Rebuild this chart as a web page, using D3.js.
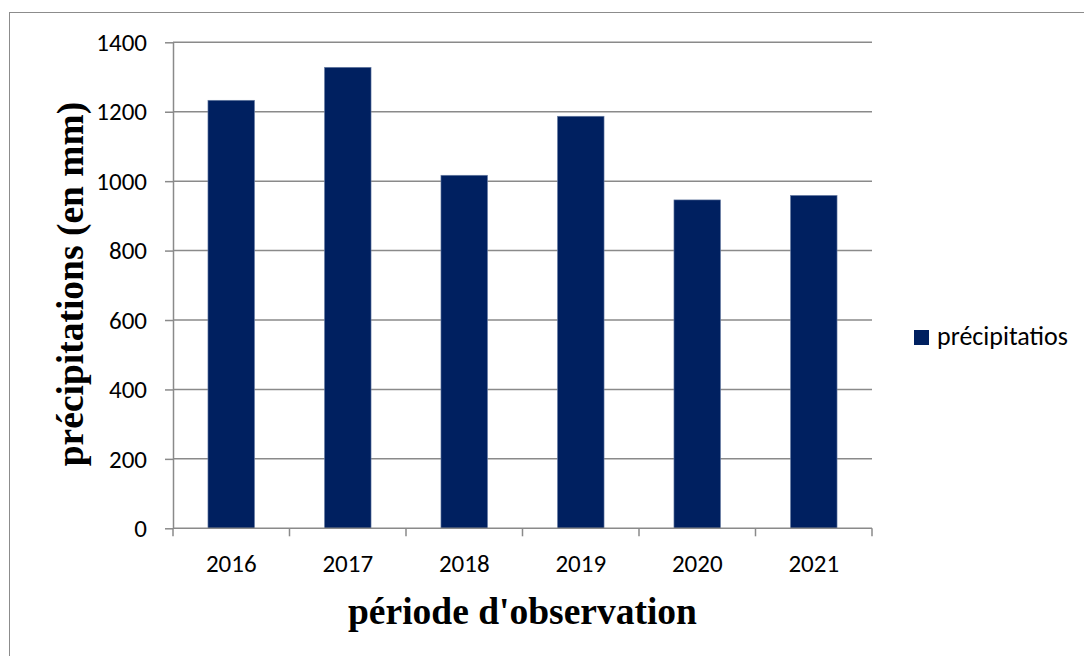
<!DOCTYPE html>
<html>
<head>
<meta charset="utf-8">
<script src="https://cdn.jsdelivr.net/npm/d3@7"></script>
<style>
  body { margin: 0; background: #fff; }
  svg { display: block; }
</style>
</head>
<body>
<svg id="chart" width="1084" height="656"></svg>
<script>
const years = ['2016', '2017', '2018', '2019', '2020', '2021'];
const rain = [1233, 1328, 1017, 1187, 946, 959];
const yTicks = [0, 200, 400, 600, 800, 1000, 1200, 1400];
const seriesName = 'précipitatios';

const width = 1084;
const height = 656;
const margin = {top: 42.3, right: 212, bottom: 127.7, left: 173};

const svg = d3.select('#chart');

// outer chart border (right/bottom run off the picture)
svg.append('rect')
  .attr('x', 9.5).attr('y', 12.5)
  .attr('width', 1200).attr('height', 800)
  .attr('fill', 'none')
  .attr('stroke', '#8c8c8c')
  .attr('stroke-width', 1);

const x = d3.scaleBand()
  .domain(years)
  .range([margin.left, width - margin.right])
  .paddingInner(0.6)
  .paddingOuter(0.3);

const y = d3.scaleLinear()
  .domain([0, 1400])
  .range([height - margin.bottom, margin.top]);

// gridlines
svg.append('g')
  .selectAll('line')
  .data(yTicks.filter(d => d > 0))
  .enter()
  .append('line')
  .attr('x1', margin.left)
  .attr('x2', width - margin.right)
  .attr('y1', d => y(d))
  .attr('y2', d => y(d))
  .attr('stroke', '#8a8a8a')
  .attr('stroke-width', 1.5);

// bars
svg.append('g')
  .selectAll('rect')
  .data(rain)
  .enter()
  .append('rect')
  .attr('x', (d, i) => x(years[i]))
  .attr('y', d => y(d))
  .attr('width', x.bandwidth())
  .attr('height', d => y(0) - y(d))
  .attr('fill', '#002060')
  .attr('stroke', '#6f83a8')
  .attr('stroke-width', 0.6);

const tickFont = "Carlito, 'Open Sans', 'Noto Sans', sans-serif";
const titleFont = "'Liberation Serif', 'Times New Roman', serif";

// y axis
const yAxis = svg.append('g')
  .attr('transform', `translate(${margin.left},0)`)
  .call(d3.axisLeft(y)
    .tickValues(yTicks)
    .tickFormat(d3.format('d'))
    .tickSize(8)
    .tickPadding(18)
    .tickSizeOuter(0));
yAxis.select('.domain').attr('stroke', '#8a8a8a').attr('stroke-width', 1.5);
yAxis.selectAll('.tick line').attr('stroke', '#8a8a8a').attr('stroke-width', 1.5);
yAxis.selectAll('.tick text')
  .attr('fill', '#000')
  .attr('dy', '0.33em')
  .style('font-family', tickFont)
  .style('font-size', '25px');

// x axis: ticks at band boundaries
const xAxisG = svg.append('g')
  .attr('transform', `translate(0,${y(0)})`);
xAxisG.append('line')
  .attr('x1', margin.left).attr('x2', width - margin.right)
  .attr('stroke', '#8a8a8a').attr('stroke-width', 1.5);
const bounds = d3.range(years.length + 1)
  .map(i => x.range()[0] + i * (x.range()[1] - x.range()[0]) / years.length);
xAxisG.selectAll('line.tk')
  .data(bounds)
  .enter()
  .append('line')
  .attr('class', 'tk')
  .attr('x1', d => d).attr('x2', d => d)
  .attr('y1', 0).attr('y2', 8)
  .attr('stroke', '#8a8a8a').attr('stroke-width', 1.5);
xAxisG.selectAll('text')
  .data(years)
  .enter()
  .append('text')
  .attr('x', d => x(d) + x.bandwidth() / 2)
  .attr('y', 43.5)
  .attr('text-anchor', 'middle')
  .style('font-family', tickFont)
  .style('font-size', '25px')
  .text(d => d);

// axis titles
svg.append('text')
  .attr('x', (margin.left + width - margin.right) / 2)
  .attr('y', 624)
  .attr('text-anchor', 'middle')
  .style('font-family', titleFont)
  .style('font-weight', 'bold')
  .style('font-size', '37.5px')
  .text("période d'observation");

svg.append('text')
  .attr('transform', `translate(83,284) rotate(-90)`)
  .attr('text-anchor', 'middle')
  .style('font-family', titleFont)
  .style('font-weight', 'bold')
  .style('font-size', '37.5px')
  .text('précipitations (en mm)');

// legend
const legend = svg.append('g').attr('transform', 'translate(914,330)');
legend.append('rect')
  .attr('width', 15).attr('height', 15)
  .attr('fill', '#002060');
legend.append('text')
  .attr('x', 23).attr('y', 15)
  .style('font-family', tickFont)
  .style('font-size', '26px')
  .text(seriesName);
</script>
</body>
</html>
